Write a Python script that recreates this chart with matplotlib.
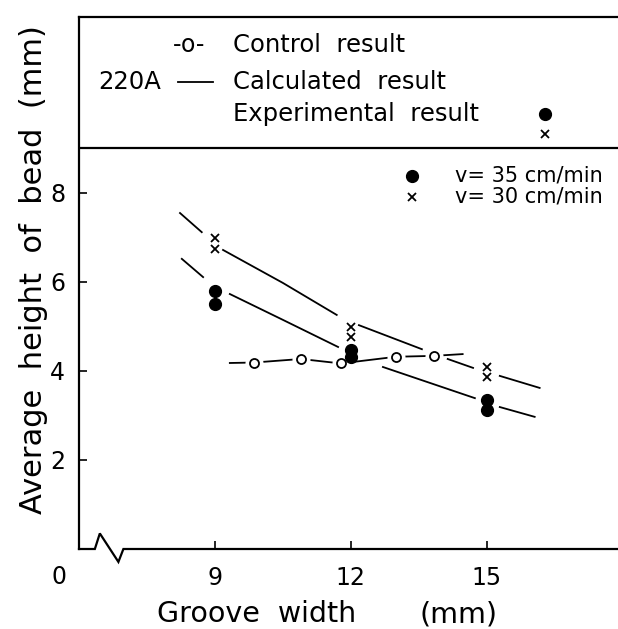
import matplotlib.pyplot as plt
from matplotlib.lines import Line2D
import numpy as np

# experimental points (groove width, bead height)
exp_x = [9, 9, 12, 12, 15, 15]
dots_35 = [5.80, 5.51, 4.47, 4.31, 3.35, 3.12]
cross_30 = [6.99, 6.74, 4.99, 4.76, 4.09, 3.87]

# calculated result, drawn as broken lines (nan = gap in the drawing)
calc30_x = [8.23, 8.71, np.nan, 9.18, 10.50, 11.69, np.nan, 12.18, 13.57, np.nan,
            14.14, 14.70, np.nan, 15.29, 16.17]
calc30_y = [7.55, 7.12, np.nan, 6.72, 5.98, 5.26, np.nan, 5.03, 4.49, np.nan,
            4.27, 4.07, np.nan, 3.89, 3.62]
calc35_x = [8.27, 8.74, np.nan, 9.33, 10.50, 11.72, np.nan, 12.71, 14.74, np.nan,
            15.29, 16.06]
calc35_y = [6.52, 6.11, np.nan, 5.73, 5.15, 4.54, np.nan, 4.09, 3.39, np.nan,
            3.19, 2.97]

# control result
ctrl_x = [9.86, 10.90, 11.78, 13.00, 13.83]
ctrl_y = [4.19, 4.27, 4.17, 4.32, 4.34]
ctrl_line_x = [9.33] + ctrl_x + [14.47]
ctrl_line_y = [4.18] + ctrl_y + [4.38]

xticks = [9, 12, 15]
yticks = [2, 4, 6, 8]

# axis break on the x axis
break_x = [6.0, 6.35, 6.46, 6.87, 6.98, 17.9]
break_y = [0, 0, 0.35, -0.29, 0, 0]

W, H = 618, 629
fig = plt.figure(figsize=(6.18, 6.29), dpi=100)


def fx(p):
    return p / W


def fy(p):
    return 1 - p / H


ax = fig.add_axes([fx(79), 1 - 549 / H, (W - 79) / W, (549 - 17) / H])
ax.set_xlim(6.0, 17.9)
ax.set_ylim(0, 11.955)
for s in ['right', 'bottom']:
    ax.spines[s].set_visible(False)
for s in ['left', 'top']:
    ax.spines[s].set_linewidth(1.6)
ax.axhline(9, color='k', lw=1.6)
ax.plot(break_x, break_y, color='k', lw=1.6, clip_on=False,
        solid_joinstyle='miter')

ax.set_xticks(xticks)
ax.set_yticks(yticks)
ax.tick_params(direction='in', length=6, width=1.2, labelsize=17)
ax.tick_params(axis='x', pad=12)
ax.tick_params(axis='y', pad=10)
fig.text(fx(59), fy(577), '0', ha='center', va='center', size=17)

lw = 1.3
ax.plot(calc30_x, calc30_y, color='k', lw=lw)
ax.plot(calc35_x, calc35_y, color='k', lw=lw)
ax.plot(ctrl_line_x, ctrl_line_y, color='k', lw=lw)
ax.plot(ctrl_x, ctrl_y, 'o', ms=13, mfc='white', mec='none', zorder=3)
ax.plot(ctrl_x, ctrl_y, 'o', ms=6.5, mfc='white', mec='k', mew=1.3, zorder=4)
ax.plot(exp_x, dots_35, 'o', ms=8.5, color='k', zorder=5)
ax.plot(exp_x, cross_30, 'x', ms=6, mew=1.3, color='k', zorder=5)

# top legend box
fs = 17.5
fig.text(fx(189), fy(45), '-o-', ha='center', va='center', size=17)
fig.text(fx(233), fy(45), 'Control  result', ha='left', va='center', size=fs)
fig.text(fx(98), fy(82), '220A', ha='left', va='center', size=fs)
fig.add_artist(Line2D([fx(178), fx(213)], [fy(82), fy(82)], color='k', lw=1.3))
fig.text(fx(233), fy(82), 'Calculated  result', ha='left', va='center', size=fs)
fig.text(fx(233), fy(114), 'Experimental  result', ha='left', va='center', size=fs)
fig.add_artist(Line2D([fx(545)], [fy(114)], marker='o', ms=8.5, color='k'))
fig.add_artist(Line2D([fx(545)], [fy(134)], marker='x', ms=6, mew=1.3, color='k'))

# speed legend
fig.add_artist(Line2D([fx(412)], [fy(176)], marker='o', ms=8.5, color='k'))
fig.add_artist(Line2D([fx(412)], [fy(197)], marker='x', ms=6, mew=1.3, color='k'))
fig.text(fx(455), fy(176), 'v= 35 cm/min', ha='left', va='center', size=15)
fig.text(fx(455), fy(197), 'v= 30 cm/min', ha='left', va='center', size=15)

fig.text(fx(34), fy(270), 'Average  height  of  bead  (mm)', rotation=90,
         ha='center', va='center', size=22)
fig.text(fx(157), fy(614), 'Groove  width', ha='left', va='center', size=20.5)
fig.text(fx(458), fy(614), '(mm)', ha='center', va='center', size=20.5)

fig.savefig('out.png', dpi=100)
